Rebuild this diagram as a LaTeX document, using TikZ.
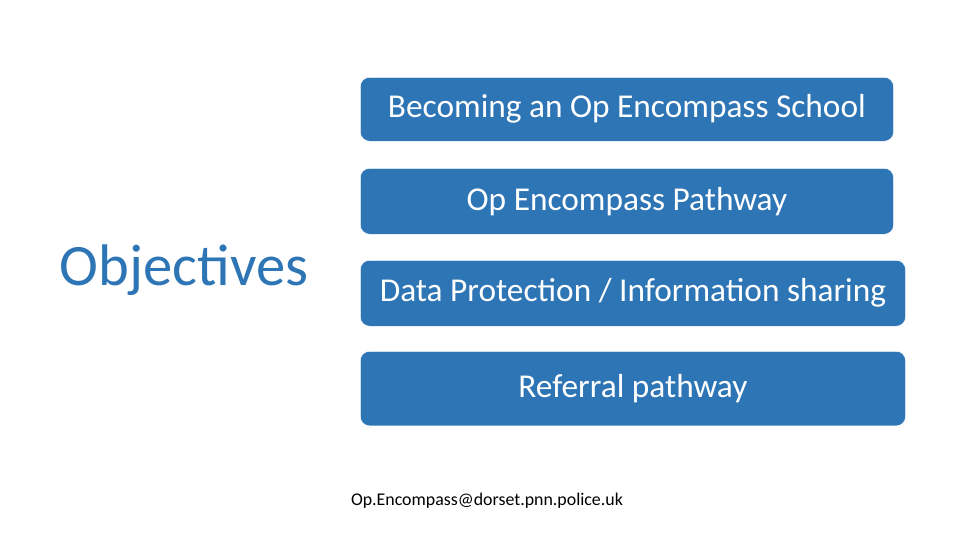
\documentclass[tikz,border=0pt]{standalone}
\usepackage{fontspec}
\setmainfont{Carlito}
\definecolor{boxblue}{HTML}{2E75B6}
\tikzset{
	objbox/.style={fill=boxblue, draw=white, rounded corners=7pt, text=white,
		font=\fontsize{25}{29}\selectfont, anchor=north west, inner sep=0pt}
}
\begin{document}
\begin{tikzpicture}[x=0.75pt,y=-0.75pt]
		% Canvas
		\fill [white] (0,0) rectangle (960,540);
		% Title
		\node (title) [text=boxblue, font=\fontsize{44}{50}\selectfont] at (184,270) {Objectives};
		% Boxes
		\node (school) [objbox, minimum width=400pt, minimum height=48pt] at (360,77) {Becoming an Op Encompass School};
		\node (pathway) [objbox, minimum width=400pt, minimum height=49.5pt] at (360,168) {Op Encompass Pathway};
		\node (data) [objbox, minimum width=409pt, minimum height=49.5pt] at (360,260) {Data Protection / Information sharing};
		\node (referral) [objbox, minimum width=409pt, minimum height=56pt] at (360,351) {Referral pathway};
		% Contact
		\node (email) [font=\fontsize{13.4}{16}\selectfont] at (487,501) {Op.Encompass@dorset.pnn.police.uk};
\end{tikzpicture}
\end{document}
